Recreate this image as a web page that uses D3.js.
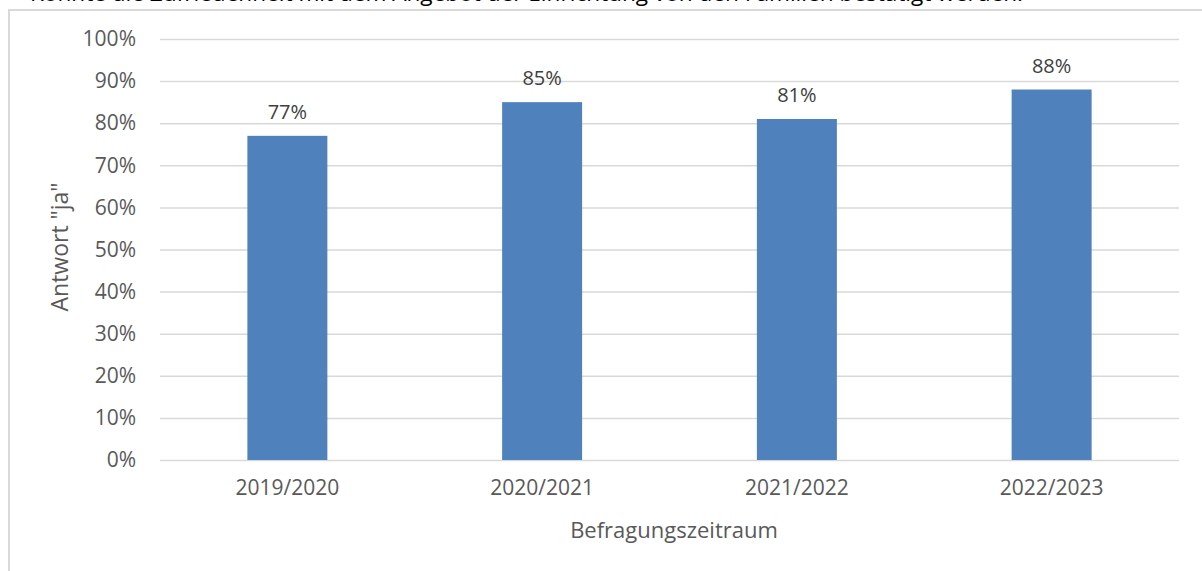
<!DOCTYPE html>
<html>
<head>
<meta charset="utf-8">
<script src="https://cdn.jsdelivr.net/npm/d3@7"></script>
<style>
  html, body { margin: 0; padding: 0; background: #fff; }
  svg { display: block; font-family: "Open Sans", "Noto Sans", sans-serif; }
</style>
</head>
<body>
<div id="chart"></div>
<script>
// data
var categories = ["2019/2020", "2020/2021", "2021/2022", "2022/2023"];
var values = [0.77, 0.85, 0.81, 0.88];
var yTicks = [0, 0.1, 0.2, 0.3, 0.4, 0.5, 0.6, 0.7, 0.8, 0.9, 1.0];
var yTitle = 'Antwort "ja"';
var xTitle = "Befragungszeitraum";
var cutTitle = "Konnte die Zufriedenheit mit dem Angebot der Einrichtung von den Familien bestätigt werden.";

var W = 1202, H = 571;
var margin = {left: 160, right: 23, top: 39, bottom: 111};

var svg = d3.select("#chart").append("svg").attr("width", W).attr("height", H);

// text line from the page above, only its lower edge shows
svg.append("g")
    .attr("transform", "translate(30,0.6)")
  .append("text")
    .attr("x", 0).attr("y", 0)
    .attr("font-size", 22)
    .attr("fill", "#000")
    .attr("textLength", 993)
    .attr("lengthAdjust", "spacingAndGlyphs")
    .text(cutTitle);

// chart frame
svg.append("path")
    .attr("d", "M9," + (H + 2) + "V10H" + (W + 2))
    .attr("fill", "none")
    .attr("stroke", "#d9d9d9")
    .attr("stroke-width", 2);

var x = d3.scaleBand()
    .domain(categories)
    .range([margin.left, W - margin.right])
    .paddingInner(0.686)
    .paddingOuter(0.343);

var y = d3.scaleLinear()
    .domain([0, 1])
    .range([H - margin.bottom, margin.top]);

// gridlines + y labels
var yAxis = d3.axisLeft(y)
    .tickValues(yTicks)
    .tickSize(-(W - margin.right - margin.left))
    .tickPadding(24)
    .tickFormat(d3.format(".0%"));

var gy = svg.append("g")
    .attr("transform", "translate(" + margin.left + ",0)")
    .call(yAxis);
gy.select(".domain").remove();
gy.selectAll(".tick line").attr("stroke", "#d9d9d9").attr("stroke-width", 1.5);
gy.selectAll(".tick text")
    .attr("fill", "#595959")
    .attr("font-size", 21)
    .attr("font-family", "Open Sans, sans-serif");

// bars
svg.selectAll(".bar")
    .data(values)
    .enter().append("rect")
    .attr("class", "bar")
    .attr("x", function(d, i){ return x(categories[i]); })
    .attr("y", function(d){ return y(d); })
    .attr("width", x.bandwidth())
    .attr("height", function(d){ return y(0) - y(d); })
    .attr("fill", "#4f81bd");

// value labels
svg.selectAll(".val")
    .data(values)
    .enter().append("text")
    .attr("class", "val")
    .attr("x", function(d, i){ return x(categories[i]) + x.bandwidth() / 2; })
    .attr("y", function(d){ return y(d) - 17; })
    .attr("text-anchor", "middle")
    .attr("font-size", 20)
    .attr("fill", "#404040")
    .text(function(d){ return d3.format(".0%")(d); });

// x axis labels
var xAxis = d3.axisBottom(x).tickSize(0).tickPadding(20);
var gx = svg.append("g")
    .attr("transform", "translate(0," + y(0) + ")")
    .call(xAxis);
gx.select(".domain").remove();
gx.selectAll(".tick text")
    .attr("fill", "#595959")
    .attr("font-size", 21)
    .attr("font-family", "Open Sans, sans-serif");

// axis titles
svg.append("text")
    .attr("x", 674)
    .attr("y", 538)
    .attr("text-anchor", "middle")
    .attr("font-size", 22)
    .attr("fill", "#595959")
    .text(xTitle);

svg.append("text")
    .attr("transform", "translate(68,247) rotate(-90)")
    .attr("text-anchor", "middle")
    .attr("font-size", 23)
    .attr("fill", "#595959")
    .text(yTitle);
</script>
</body>
</html>
